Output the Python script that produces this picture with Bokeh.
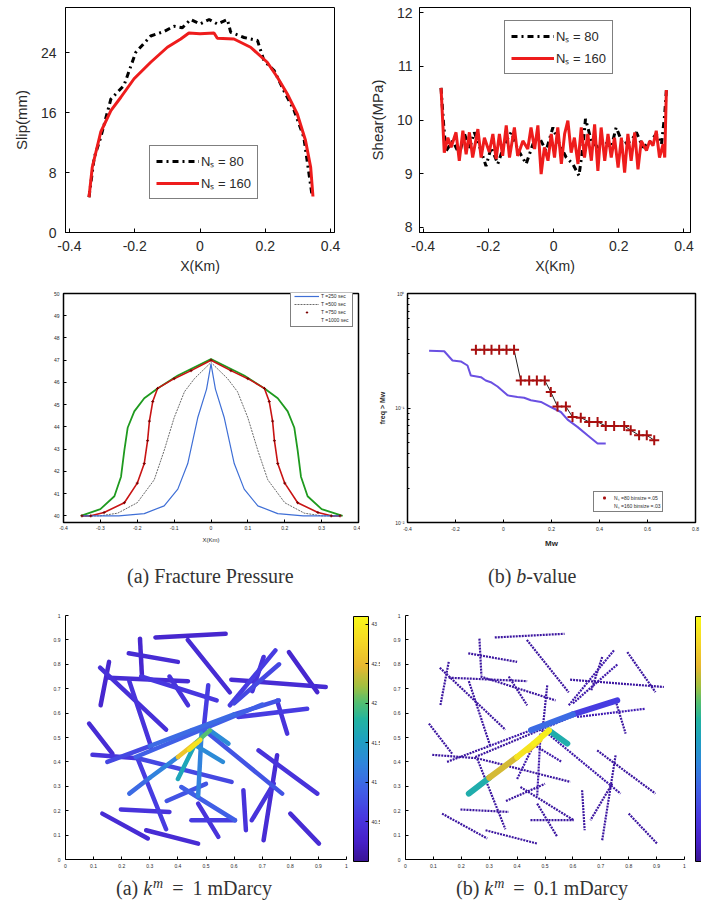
import numpy as np
from bokeh.plotting import figure
from bokeh.layouts import column, row
from bokeh.models import (Legend, LegendItem, ColorBar, LinearColorMapper, Div,
                          FixedTicker, ColumnDataSource, Range1d, CDSView, IndexFilter)
from bokeh.embed import file_html
from bokeh.resources import INLINE

# ------------------------------------------------------------------ data
# Panel 1: slip along fault
slip_x_ns80 = [-0.340, -0.324, -0.304, -0.273, -0.233, -0.197, -0.151, -0.110, -0.080, -0.054, -0.029, 0.000,
               0.028, 0.053, 0.084, 0.094, 0.135, 0.176, 0.196, 0.227, 0.257, 0.288, 0.318, 0.344]
slip_y_ns80 = [4.7, 10.0, 12.7, 17.8, 19.6, 24.0, 26.2, 26.8, 27.5, 27.3, 28.4, 27.8,
               28.4, 27.8, 28.4, 26.7, 26.0, 25.6, 22.9, 21.6, 18.9, 16.3, 12.7, 4.7]
slip_x_ns160 = [-0.340, -0.330, -0.304, -0.273, -0.243, -0.202, -0.151, -0.100, -0.059, -0.034, 0.000, 0.043,
                0.053, 0.104, 0.155, 0.206, 0.237, 0.267, 0.298, 0.323, 0.339, 0.346]
slip_y_ns160 = [4.7, 8.7, 13.4, 16.25, 18.0, 20.5, 22.7, 24.7, 25.8, 26.6, 26.5, 26.6,
                25.9, 25.8, 24.7, 22.7, 20.7, 18.5, 15.8, 12.3, 8.7, 4.8]
slip_xticks = [-0.4, -0.2, 0, 0.2, 0.4]
slip_xtick_labels = ["-0.4", "-0.2", "0", "0.2", "0.4"]
slip_yticks = [0, 8, 16, 24]
slip_ytick_labels = ["0", "8", "16", "24"]

# Panel 2: shear stress along fault
shear_x_ns160 = [-0.345, -0.335, -0.324, -0.314, -0.299, -0.289, -0.278, -0.268, -0.258, -0.248, -0.232, -0.222,
                 -0.212, -0.197, -0.186, -0.176, -0.166, -0.156, -0.145, -0.135, -0.120, -0.110, -0.094, -0.079,
                 -0.069, -0.058, -0.048, -0.038, -0.028, -0.017, -0.007, 0.003, 0.013, 0.024, 0.034, 0.044,
                 0.054, 0.064, 0.075, 0.085, 0.095, 0.105, 0.116, 0.126, 0.136, 0.146, 0.157, 0.167,
                 0.177, 0.187, 0.198, 0.208, 0.218, 0.228, 0.238, 0.249, 0.259, 0.269, 0.285, 0.295,
                 0.305, 0.315, 0.325, 0.336, 0.341, 0.346]
shear_y_ns160 = [10.60, 9.39, 9.67, 9.49, 9.77, 9.24, 9.80, 9.36, 9.77, 9.30, 9.83, 9.30,
                 9.67, 9.40, 9.74, 9.27, 9.74, 9.33, 9.90, 9.30, 9.86, 9.33, 9.61, 9.46,
                 9.86, 9.46, 9.90, 8.99, 9.49, 9.24, 9.74, 9.30, 9.86, 9.18, 9.74, 9.99,
                 9.39, 9.67, 9.18, 9.86, 9.30, 9.74, 9.24, 9.92, 9.05, 9.86, 9.24, 9.74,
                 9.30, 9.67, 9.11, 9.67, 9.02, 9.74, 9.24, 9.77, 9.08, 9.61, 9.43, 9.61,
                 9.52, 9.80, 9.30, 9.55, 9.30, 10.56]
shear_x_ns80 = [-0.345, -0.337, -0.330, -0.309, -0.289, -0.273, -0.258, -0.243, -0.222, -0.207, -0.191, -0.171,
                -0.150, -0.130, -0.110, -0.084, -0.063, -0.043, -0.023, -0.002, 0.018, 0.039, 0.059, 0.078,
                0.090, 0.098, 0.116, 0.136, 0.157, 0.177, 0.192, 0.213, 0.238, 0.254, 0.274, 0.295,
                0.315, 0.331, 0.341, 0.346]
shear_y_ns80 = [10.60, 9.92, 9.42, 9.61, 9.36, 9.74, 9.46, 9.77, 9.42, 9.14, 9.49, 9.18,
                9.55, 9.77, 9.46, 9.18, 9.55, 9.67, 9.42, 9.86, 9.55, 9.30, 9.18, 8.96,
                9.49, 10.02, 9.61, 9.49, 9.61, 9.49, 9.86, 9.55, 9.61, 9.77, 9.49, 9.58,
                9.74, 9.55, 10.11, 10.56]
shear_yticks = [8, 9, 10, 11, 12]
shear_ytick_labels = ["8", "9", "10", "11", "12"]

# Panel 3: fracture pressure profiles
pres_x_t250 = [-0.35, -0.25, -0.181, -0.127, -0.090, -0.063, -0.036, -0.012, 0.0,
               0.012, 0.036, 0.063, 0.090, 0.127, 0.181, 0.25, 0.35]
pres_y_t250 = [40.0, 40.0, 40.1, 40.45, 41.2, 42.35, 44.41, 45.7, 46.83,
               45.7, 44.41, 42.35, 41.2, 40.45, 40.1, 40.0, 40.0]
pres_x_t500 = [-0.35, -0.30, -0.253, -0.200, -0.154, -0.127, -0.100, -0.072, -0.045, 0.0,
               0.045, 0.072, 0.100, 0.127, 0.154, 0.200, 0.253, 0.30, 0.35]
pres_y_t500 = [40.0, 40.0, 40.12, 40.59, 41.62, 42.94, 44.41, 45.58, 46.17, 46.9,
               46.17, 45.58, 44.41, 42.94, 41.62, 40.59, 40.12, 40.0, 40.0]
pres_x_t750 = [-0.35, -0.326, -0.29, -0.235, -0.200, -0.181, -0.172, -0.167, -0.158, -0.145, -0.100, -0.054, 0.0,
               0.054, 0.100, 0.145, 0.158, 0.167, 0.172, 0.181, 0.200, 0.235, 0.29, 0.326, 0.35]
pres_y_t750 = [40.0, 40.0, 40.15, 40.59, 41.47, 42.35, 43.38, 44.26, 45.14, 45.73, 46.17, 46.53, 47.0,
               46.53, 46.17, 45.73, 45.14, 44.26, 43.38, 42.35, 41.47, 40.59, 40.15, 40.0, 40.0]
pres_x_t1000 = [-0.353, -0.30, -0.262, -0.244, -0.235, -0.226, -0.208, -0.181, -0.145, -0.090, 0.0,
                0.090, 0.145, 0.181, 0.208, 0.226, 0.235, 0.244, 0.262, 0.30, 0.357]
pres_y_t1000 = [40.0, 40.3, 40.88, 41.76, 42.94, 43.96, 44.7, 45.29, 45.73, 46.31, 47.05,
                46.31, 45.73, 45.29, 44.7, 43.96, 42.94, 41.76, 40.88, 40.3, 40.0]
pres_labels = ["T =250 sec", "T =500 sec", "T =750 sec", "T =1000 sec"]
pres_xticks = [-0.4, -0.3, -0.2, -0.1, 0, 0.1, 0.2, 0.3, 0.4]
pres_xtick_labels = ["-0.4", "-0.3", "-0.2", "-0.1", "0", "0.1", "0.2", "0.3", "0.4"]
pres_yticks = [40, 41, 42, 43, 44, 45, 46, 47, 48, 49, 50]
pres_ytick_labels = ["40", "41", "42", "43", "44", "45", "46", "47", "48", "49", "50"]

# Panel 4: b-value (cumulative frequency vs magnitude)
bval_x_ns160 = [-0.310, -0.247, -0.2125, -0.178, -0.150, -0.136, -0.094, -0.074, -0.053, -0.025, 0.017,
                0.058, 0.086, 0.114, 0.156, 0.197, 0.239, 0.267, 0.308, 0.350, 0.392, 0.426]
bval_y_ns160 = [0.317, 0.313, 0.260, 0.255, 0.235, 0.192, 0.186, 0.174, 0.168, 0.154, 0.129,
                0.125, 0.123, 0.117, 0.113, 0.102, 0.0923, 0.0792, 0.0684, 0.0578, 0.049, 0.049]
bval_x_ns80 = [-0.115, -0.080, -0.050, -0.018, 0.0125, 0.044, 0.072, 0.107, 0.139, 0.172, 0.197, 0.225,
               0.260, 0.2875, 0.322, 0.357, 0.392, 0.426, 0.461, 0.503, 0.530, 0.565, 0.597, 0.628]
bval_y_ns80 = [0.322, 0.322, 0.322, 0.322, 0.322, 0.322, 0.174, 0.174, 0.174, 0.174, 0.138, 0.103,
               0.103, 0.0835, 0.0824, 0.0755, 0.0755, 0.0697, 0.0697, 0.0697, 0.064, 0.0578, 0.0578, 0.0523]
bval_labels = ["Nₛ =80 binsize =.05", "Nₛ =160 binsize =.03"]
bval_xticks = [-0.4, -0.2, 0, 0.2, 0.4, 0.6, 0.8]
bval_xtick_labels = ["-0.4", "-0.2", "0", "0.2", "0.4", "0.6", "0.8"]
bval_yticks = [0.01, 0.1, 1]
bval_ytick_labels = ["10⁻²", "10⁻¹", "10⁰"]
bval_yminor = [0.02, 0.03, 0.04, 0.05, 0.06, 0.07, 0.08, 0.09, 0.2, 0.3, 0.4, 0.5, 0.6, 0.7, 0.8, 0.9]

# Panels 5-6: fracture network, pressure on each fracture (two matrix permeabilities)
frac_x0 = [0.320, 0.435, 0.265, 0.225, 0.155, 0.123, 0.155, 0.227, 0.269, 0.370, 0.508, 0.590, 0.795,
           0.747, 0.705, 0.753, 0.600, 0.149, 0.300, 0.450, 0.600, 0.615, 0.084, 0.096, 0.257, 0.496,
           0.687, 0.633, 0.753, 0.741, 0.800, 0.131, 0.197, 0.287, 0.257, 0.412, 0.448, 0.472, 0.484,
           0.360, 0.460, 0.460, 0.227, 0.300, 0.400, 0.460, 0.514, 0.440, 0.250]
frac_y0 = [0.910, 0.900, 0.905, 0.845, 0.810, 0.786, 0.745, 0.731, 0.750, 0.750, 0.714, 0.737, 0.850,
           0.857, 0.830, 0.651, 0.640, 0.400, 0.465, 0.530, 0.595, 0.584, 0.557, 0.429, 0.415, 0.529,
           0.447, 0.284, 0.427, 0.311, 0.188, 0.188, 0.205, 0.120, 0.413, 0.297, 0.161, 0.229, 0.516,
           0.240, 0.470, 0.470, 0.270, 0.335, 0.420, 0.475, 0.529, 0.450, 0.420]
frac_x1 = [0.570, 0.585, 0.272, 0.400, 0.125, 0.358, 0.436, 0.305, 0.538, 0.436, 0.490, 0.926, 0.896,
           0.585, 0.665, 0.789, 0.760, 0.300, 0.450, 0.600, 0.759, 0.860, 0.167, 0.257, 0.591, 0.771,
           0.896, 0.642, 0.705, 0.663, 0.902, 0.293, 0.370, 0.472, 0.358, 0.603, 0.603, 0.544, 0.472,
           0.500, 0.400, 0.560, 0.300, 0.400, 0.460, 0.514, 0.580, 0.480, 0.700]
frac_y1 = [0.925, 0.685, 0.755, 0.810, 0.632, 0.532, 0.731, 0.461, 0.652, 0.632, 0.516, 0.707, 0.686,
           0.632, 0.690, 0.516, 0.800, 0.465, 0.530, 0.595, 0.652, 0.618, 0.434, 0.415, 0.318, 0.270,
           0.270, 0.120, 0.079, 0.161, 0.065, 0.086, 0.195, 0.065, 0.124, 0.161, 0.161, 0.093, 0.260,
           0.310, 0.330, 0.400, 0.335, 0.420, 0.475, 0.529, 0.475, 0.490, 0.635]
frac_p_k1 = [40.35, 40.40, 40.35, 40.40, 40.35, 40.45, 40.40, 40.50, 40.55, 40.50, 40.60, 40.40, 40.35,
             40.60, 40.50, 40.50, 40.70, 40.70, 41.00, 41.00, 40.80, 40.60, 40.40, 40.50, 40.70, 40.80,
             40.50, 40.50, 40.40, 40.50, 40.40, 40.40, 40.50, 40.40, 40.60, 40.90, 40.60, 40.50, 41.20,
             40.80, 41.60, 41.30, 41.00, 41.20, 42.60, 42.00, 41.30, 42.90, 40.90]
frac_p_k01 = [40.05, 40.05, 40.05, 40.05, 40.05, 40.05, 40.05, 40.05, 40.05, 40.05, 40.05, 40.05, 40.05,
              40.10, 40.05, 40.05, 40.10, 40.05, 40.10, 41.00, 40.60, 40.15, 40.05, 40.05, 40.05, 40.10,
              40.05, 40.05, 40.05, 40.05, 40.05, 40.05, 40.05, 40.05, 40.05, 40.05, 40.05, 40.05, 40.10,
              40.05, 40.10, 40.10, 41.70, 42.40, 42.90, 43.00, 41.70, 42.60, 40.05]
net_ticks = [0, 0.1, 0.2, 0.3, 0.4, 0.5, 0.6, 0.7, 0.8, 0.9, 1]
net_tick_labels = ["0", "0.1", "0.2", "0.3", "0.4", "0.5", "0.6", "0.7", "0.8", "0.9", "1"]
cbar_ticks = [40.5, 41, 41.5, 42, 42.5, 43]
cbar_tick_labels = ["40.5", "41", "41.5", "42", "42.5", "43"]

captions = {
    "a_pressure": "(a) Fracture Pressure",
    "b_bvalue": "(b) <i>b</i>-value",
    "a_k1": "(a) <i>k</i><sup><i>m</i></sup> = 1 mDarcy",
    "b_k01": "(b) <i>k</i><sup><i>m</i></sup> = 0.1 mDarcy",
}

# ------------------------------------------------------------------ style helpers
SANS = "Liberation Sans"
TXT = "#2a2a2a"

parula_keys = [(0.00, "#3a1496"), (0.08, "#4620c8"), (0.18, "#4838e0"), (0.30, "#3f63e6"),
               (0.40, "#2f86dc"), (0.50, "#1ea2c0"), (0.58, "#22b4a0"), (0.65, "#55bf70"),
               (0.72, "#a5c040"), (0.80, "#e8b830"), (0.90, "#f5d825"), (1.00, "#f8f818")]


def _rgb(h):
    return [int(h[i:i + 2], 16) for i in (1, 3, 5)]


_pos = np.array([k[0] for k in parula_keys])
_cols = np.array([_rgb(k[1]) for k in parula_keys], dtype=float)
PALETTE = ["#%02x%02x%02x" % tuple(int(round(np.interp(t, _pos, _cols[:, c]))) for c in range(3))
           for t in np.linspace(0, 1, 256)]


def make_fig(w, h, l, r, t, b, xr, yr, y_axis_type="linear", box=True):
    p = figure(width=w, height=h, x_range=Range1d(*xr), y_range=Range1d(*yr),
               y_axis_type=y_axis_type, toolbar_location=None, output_backend="svg",
               min_border_left=l, min_border_right=r, min_border_top=t, min_border_bottom=b)
    p.grid.visible = False
    p.outline_line_color = "black" if box else None
    p.outline_line_width = 1
    p.background_fill_color = "white"
    p.border_fill_color = "white"
    return p


def style_axis(ax, ticks, labels, fs, standoff, tick_in=4, minor=None):
    ax.ticker = FixedTicker(ticks=ticks, minor_ticks=minor or [])
    ax.major_label_overrides = dict(zip(ticks, labels))
    ax.major_tick_in = tick_in
    ax.major_tick_out = 0
    ax.minor_tick_in = 2 if minor else 0
    ax.minor_tick_out = 0
    ax.major_label_text_font_size = fs
    ax.major_label_text_font = SANS
    ax.major_label_text_color = TXT
    ax.major_label_standoff = standoff
    ax.axis_line_color = "black"
    ax.major_tick_line_color = "black"
    ax.minor_tick_line_color = "black"
    ax.axis_label_text_font = SANS
    ax.axis_label_text_font_style = "normal"
    ax.axis_label_text_color = TXT


def legend(p, items, loc, fs, gw, gh, pad, spacing, bw=1.2):
    lg = Legend(items=items, location=loc, label_text_font_size=fs, label_text_font=SANS,
                label_text_color=TXT, glyph_width=gw, glyph_height=gh, label_height=gh,
                label_width=10, padding=pad, spacing=spacing, margin=0, label_standoff=2,
                border_line_color="black", border_line_width=bw, background_fill_color="white",
                background_fill_alpha=1)
    p.add_layout(lg)


def caption_div(w, h, html, left, top, size=20):
    style = ("font-family:'Liberation Serif',serif;font-size:%dpx;line-height:%dpx;color:#333333;"
             "white-space:nowrap;padding-left:%dpx;padding-top:%dpx;" % (size, size + 4, left, top))
    html = html.replace("<sup>", "<sup style='font-size:14px;vertical-align:7px;line-height:0;margin-left:1px;'>")
    html = html.replace(" = ", "<span style='margin-left:9px'>=</span><span style='margin-left:9px'></span>")
    return Div(width=w, height=h, text="<div style=\"%s\">%s</div>" % (style, html), margin=0)


# ------------------------------------------------------------------ panel 1
p1 = make_fig(350, 279, 65, 16, 7, 47, (-0.412, 0.412), (0, 30))
style_axis(p1.xaxis[0], slip_xticks, slip_xtick_labels, "14px", 8)
style_axis(p1.yaxis[0], slip_yticks, slip_ytick_labels, "14px", 9)
p1.xaxis[0].axis_label = "X(Km)"
p1.xaxis[0].axis_label_text_font_size = "14px"
p1.xaxis[0].axis_label_standoff = 4
p1.yaxis[0].axis_label = "Slip(mm)"
p1.yaxis[0].axis_label_text_font_size = "15px"
p1.yaxis[0].axis_label_standoff = 8
k80 = p1.line(slip_x_ns80, slip_y_ns80, line_color="black", line_width=3, line_dash="dashdot")
k160 = p1.line(slip_x_ns160, slip_y_ns160, line_color="#ee1c1c", line_width=3)
legend(p1, [LegendItem(label="Nₛ = 80", renderers=[k80]), LegendItem(label="Nₛ = 160", renderers=[k160])],
       (84, 33), "13px", 43, 18, 6, 4, 1.5)

# ------------------------------------------------------------------ panel 2
p2 = make_fig(351, 279, 69, 11, 7, 47, (-0.411, 0.42), (7.9, 12.1))
style_axis(p2.xaxis[0], slip_xticks, slip_xtick_labels, "14px", 8)
style_axis(p2.yaxis[0], shear_yticks, shear_ytick_labels, "14px", 7)
p2.xaxis[0].axis_label = "X(Km)"
p2.xaxis[0].axis_label_text_font_size = "14px"
p2.xaxis[0].axis_label_standoff = 4
p2.yaxis[0].axis_label = "Shear(MPa)"
p2.yaxis[0].axis_label_text_font_size = "15px"
p2.yaxis[0].axis_label_standoff = 8
q80 = p2.line(shear_x_ns80, shear_y_ns80, line_color="black", line_width=3, line_dash="dashdot")
q160 = p2.line(shear_x_ns160, shear_y_ns160, line_color="#ee1c1c", line_width=3)
legend(p2, [LegendItem(label="Nₛ = 80", renderers=[q80]), LegendItem(label="Nₛ = 160", renderers=[q160])],
       (85, 158), "13px", 43, 18, 6, 4, 1.5)

# ------------------------------------------------------------------ panel 3
p3 = make_fig(360, 271, 63, 2, 14, 23, (-0.4, 0.4), (39.7, 50.0))
p3.outline_line_width = 1.5
style_axis(p3.xaxis[0], pres_xticks, pres_xtick_labels, "5px", 3, tick_in=3)
style_axis(p3.yaxis[0], pres_yticks, pres_ytick_labels, "5px", 4, tick_in=3)
p3.xaxis[0].axis_label = "X(Km)"
p3.xaxis[0].axis_label_text_font_size = "6px"
p3.xaxis[0].axis_label_standoff = 4
g4 = p3.line(pres_x_t1000, pres_y_t1000, line_color="#1f9a1f", line_width=1.8)
g3 = p3.line(pres_x_t750, pres_y_t750, line_color="#c81414", line_width=1.6)
g2 = p3.line(pres_x_t500, pres_y_t500, line_color="#444444", line_width=0.8, line_dash="2 1")
g1 = p3.line(pres_x_t250, pres_y_t250, line_color="#3f6fd6", line_width=1.2)
m3 = p3.scatter(pres_x_t750, pres_y_t750, marker="cross", size=3, line_color="#7a0000", line_width=1)
src_g = ColumnDataSource(dict(x=pres_x_t1000, y=pres_y_t1000))
m4 = p3.scatter("x", "y", source=src_g, view=CDSView(filter=IndexFilter([])),
                marker="x", size=3, line_color="#2fbf2f", line_width=1)
legend(p3, [LegendItem(label=pres_labels[0], renderers=[g1]), LegendItem(label=pres_labels[1], renderers=[g2]),
            LegendItem(label=pres_labels[2], renderers=[m3]), LegendItem(label=pres_labels[3], renderers=[m4])],
       (227, 195), "5px", 25, 6, 3, 2, 1.5)

# ------------------------------------------------------------------ panel 4
p4 = make_fig(341, 271, 47, 6, 14, 27, (-0.4, 0.8), (0.01, 1), y_axis_type="log")
p4.outline_line_width = 1.5
style_axis(p4.xaxis[0], bval_xticks, bval_xtick_labels, "5px", 4, tick_in=3)
style_axis(p4.yaxis[0], bval_yticks, bval_ytick_labels, "5px", 3, tick_in=3, minor=bval_yminor)
p4.xaxis[0].axis_label = "Mw"
p4.xaxis[0].axis_label_text_font_size = "8px"
p4.xaxis[0].axis_label_text_font_style = "bold"
p4.xaxis[0].axis_label_standoff = 5
p4.yaxis[0].axis_label = "freq > Mw"
p4.yaxis[0].axis_label_text_font_size = "7px"
p4.yaxis[0].axis_label_text_font_style = "bold"
p4.yaxis[0].axis_label_standoff = 6
p4.line(bval_x_ns160, bval_y_ns160, line_color="#6a50e2", line_width=2)
p4.line(bval_x_ns80, bval_y_ns80, line_color="#222222", line_width=1)
b80 = p4.scatter(bval_x_ns80, bval_y_ns80, marker="cross", size=10, line_color="#a80f0f", line_width=2)
src_b = ColumnDataSource(dict(x=bval_x_ns160, y=bval_y_ns160))
b160 = p4.scatter("x", "y", source=src_b, view=CDSView(filter=IndexFilter([])),
                  marker="circle", size=4, fill_color=None, line_color="#9ee8a8", line_width=1)
legend(p4, [LegendItem(label=bval_labels[0], renderers=[b80]), LegendItem(label=bval_labels[1], renderers=[b160])],
       (186, 10), "5px", 16, 7, 2, 1, 1.5)

# ------------------------------------------------------------------ panels 5 & 6
mapper = LinearColorMapper(palette=PALETTE, low=40.0, high=43.1)
order_k1 = np.argsort(frac_p_k1)
src5 = ColumnDataSource(dict(x0=np.array(frac_x0)[order_k1], y0=np.array(frac_y0)[order_k1],
                             x1=np.array(frac_x1)[order_k1], y1=np.array(frac_y1)[order_k1],
                             v=np.array(frac_p_k1)[order_k1]))
order_k01 = np.argsort(frac_p_k01)
v01 = np.array(frac_p_k01)[order_k01]
thin = v01 <= 40.15


def sub(mask):
    return ColumnDataSource(dict(x0=np.array(frac_x0)[order_k01][mask], y0=np.array(frac_y0)[order_k01][mask],
                                 x1=np.array(frac_x1)[order_k01][mask], y1=np.array(frac_y1)[order_k01][mask],
                                 v=v01[mask]))


def net_fig(w, l, r):
    p = make_fig(w, 281, l, r, 25, 12, (0, 1), (0, 1), box=False)
    style_axis(p.xaxis[0], net_ticks, net_tick_labels, "5px", 4, tick_in=3)
    style_axis(p.yaxis[0], net_ticks, net_tick_labels, "5px", 5, tick_in=3)
    return p


p5 = net_fig(380, 65, 34)
p5.segment("x0", "y0", "x1", "y1", source=src5, line_width=4.5,
           line_color={"field": "v", "transform": mapper}, line_cap="round")
cb5 = ColorBar(color_mapper=mapper, location=(288, -2), width=15, height=245, padding=0,
               ticker=FixedTicker(ticks=cbar_ticks), major_label_overrides=dict(zip(cbar_ticks, cbar_tick_labels)),
               major_label_text_font_size="5px", major_label_text_color=TXT, label_standoff=3,
               major_tick_in=3, major_tick_out=0, major_tick_line_color="black",
               bar_line_color="black", bar_line_width=1, border_line_color=None, background_fill_alpha=0)
p5.add_layout(cb5)

p6 = net_fig(321, 25, 17)
p6.segment("x0", "y0", "x1", "y1", source=sub(thin), line_width=2.2, line_dash="2 1",
           line_color={"field": "v", "transform": mapper})
p6.segment("x0", "y0", "x1", "y1", source=sub(~thin), line_width=6,
           line_color={"field": "v", "transform": mapper}, line_cap="round")
cb6 = ColorBar(color_mapper=mapper, location=(290, -2), width=15, height=245, padding=0,
               ticker=FixedTicker(ticks=[]), major_tick_in=0, major_tick_out=0,
               bar_line_color="black", bar_line_width=1, border_line_color=None, background_fill_alpha=0)
p6.add_layout(cb6)

# ------------------------------------------------------------------ captions
d3 = caption_div(360, 40, captions["a_pressure"], 127, 14)
d4 = caption_div(341, 40, captions["b_bvalue"], 128, 14)
d5 = caption_div(380, 33, captions["a_k1"], 116, 5)
d6 = caption_div(321, 33, captions["b_k01"], 76, 5)

layout = column(row(p1, p2), row(p3, p4), row(d3, d4), row(p5, p6), row(d5, d6))
open("out.html", "w").write(file_html(layout, INLINE))
